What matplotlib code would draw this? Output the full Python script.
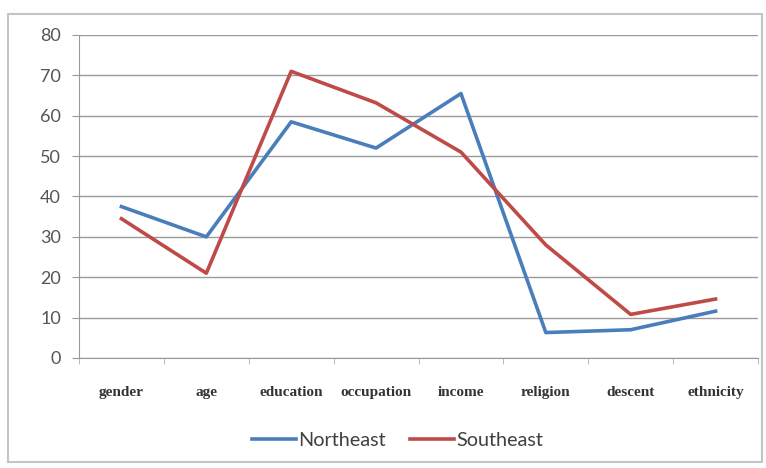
import numpy as np
import matplotlib.pyplot as plt
from matplotlib.patches import Rectangle
from matplotlib.ticker import MultipleLocator, FixedLocator

# Perceived inequality by dimension, two regions (%)
categories = ['gender', 'age', 'education', 'occupation', 'income',
              'religion', 'descent', 'ethnicity']
northeast = [37.5, 30, 58.5, 52, 65.5, 6.3, 7, 11.6]
southeast = [34.5, 21, 71, 63.2, 51, 28, 10.8, 14.6]

fig = plt.figure(figsize=(7.66, 4.68), dpi=100)

# outer chart frame
fig.patches.append(Rectangle((8/766, 6/468), 754/766, 448/468,
                             transform=fig.transFigure, fill=False,
                             edgecolor='#c4c4c4', linewidth=1.5))

ax = fig.add_axes([79/766, 1 - 358/468, 679/766, 323/468])
x = np.arange(len(categories))

ax.plot(x, northeast, color='#4a7ebb', linewidth=2.6, label='Northeast')
ax.plot(x, southeast, color='#be4b48', linewidth=2.6, label='Southeast')

ax.set_xlim(-0.5, len(categories) - 0.5)
ax.set_ylim(0, 80)
ax.yaxis.set_major_locator(MultipleLocator(10))
ax.grid(axis='y', color='#9a9a9a', linewidth=1)
ax.set_axisbelow(True)

for side in ['top', 'right']:
    ax.spines[side].set_visible(False)
for side in ['left', 'bottom']:
    ax.spines[side].set_color('#9a9a9a')

ax.set_xticks(x)
ax.set_xticklabels(categories, family='Liberation Serif', fontweight='bold',
                   fontsize=11, color='#333333')
ax.xaxis.set_minor_locator(FixedLocator(np.arange(-0.5, len(categories), 1)))
ax.tick_params(axis='x', which='major', length=0, pad=20)
ax.tick_params(axis='x', which='minor', length=4, color='#b0b0b0')
ax.tick_params(axis='y', length=5, color='#9a9a9a', labelsize=13,
               labelcolor='#555555', pad=8)
for lbl in ax.get_yticklabels():
    lbl.set_family('Lato')

ax.legend(loc='center', bbox_to_anchor=(0.469, -0.255), ncol=2,
          frameon=False, prop={'family': 'Lato', 'size': 14.3},
          handlelength=2.25, handletextpad=0.1, columnspacing=1.2,
          labelcolor='#404040')

fig.savefig('out.png', dpi=100)
